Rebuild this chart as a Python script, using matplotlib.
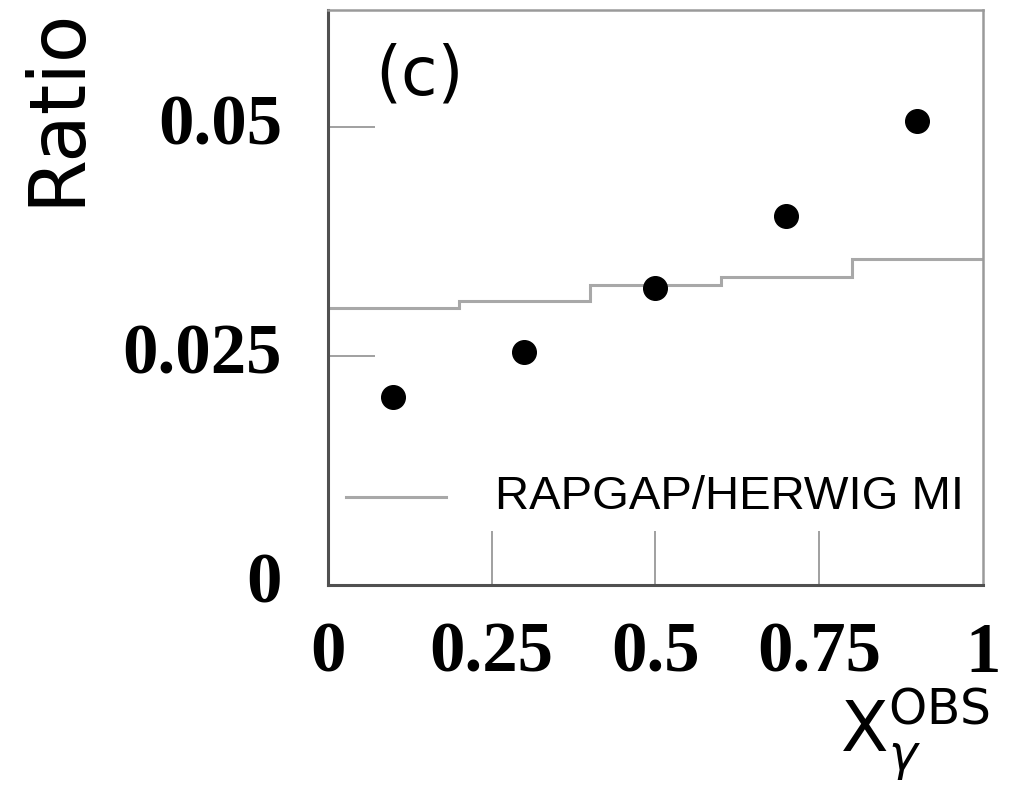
# -*- coding: utf-8 -*-

import numpy as np
import matplotlib
matplotlib.use('Agg')
import matplotlib.pyplot as plt

# data points (x_gamma^OBS bin centres) and measured ratio
x_data = [0.1, 0.3, 0.5, 0.7, 0.9]
ratio_data = [0.0205, 0.0254, 0.0324, 0.0403, 0.0507]
ratio_err = [0.0004, 0.0004, 0.0004, 0.0005, 0.0008]

# model histogram: bin edges and contents
bin_edges = [0.0, 0.2, 0.4, 0.6, 0.8, 1.0]
model_vals = [0.0303, 0.0310, 0.0328, 0.0336, 0.0356]

x_ticks = [0.25, 0.5, 0.75]
x_labpos = [0, 0.25, 0.5, 0.75, 1.0]
x_ticklabels = ['0', '0.25', '0.5', '0.75', '1']
y_ticks = [0.025, 0.05]
y_labpos = [0, 0.025, 0.05]
y_ticklabels = ['0', '0.025', '0.05']

fig = plt.figure(figsize=(10.11, 7.90), dpi=100)
ax = fig.add_axes([0.3244, 0.2595, 0.6479, 0.7278])

ax.stairs(model_vals, bin_edges, color='#a8a8a8', lw=2.2, baseline=None)
ax.errorbar(x_data, ratio_data, yerr=ratio_err, fmt='o', color='black',
            ms=17, elinewidth=1.5, capsize=0)

ax.set_xlim(0, 1)
ax.set_ylim(0, 0.0628)

ax.set_xticks(x_ticks)
ax.set_yticks(y_ticks)
ax.tick_params(direction='in', length=39, width=1.2, color='#909090',
               labelleft=False, labelbottom=False)
ax.tick_params(axis='y', length=34)

for side in ('left', 'bottom'):
    ax.spines[side].set_color('#505050')
    ax.spines[side].set_linewidth(2.2)
for side in ('top', 'right'):
    ax.spines[side].set_color('#9a9a9a')
    ax.spines[side].set_linewidth(1.8)

# bold serif tick labels
tick_font = dict(family='Liberation Serif', weight='bold', size=51)
for xv, lab in zip(x_labpos, x_ticklabels):
    ax.text(xv, -0.0040, lab, ha='center', va='top', **tick_font)
for yv, lab in zip(y_labpos, y_ticklabels):
    ax.text(-0.07, yv, lab, ha='right', va='center', **tick_font)

ax.text(0.072, 0.0556, '(c)', ha='left', va='center', fontsize=48,
        family='DejaVu Sans')

# legend entry
ax.plot([0.027, 0.18], [0.0096, 0.0096], color='#a8a8a8', lw=2.2)
ax.text(0.255, 0.0096, 'RAPGAP/HERWIG MI', ha='left', va='center',
        fontsize=34, family='Liberation Sans')

fig.text(0.056, 0.866, 'Ratio', rotation=90, ha='center', va='center',
         fontsize=56, family='DejaVu Sans')

fig.text(0.905, 0.07, r'$\mathsf{X}_{\gamma}^{\mathsf{OBS}}$', ha='center',
         va='center', fontsize=50)

fig.savefig('out.png', dpi=100)
